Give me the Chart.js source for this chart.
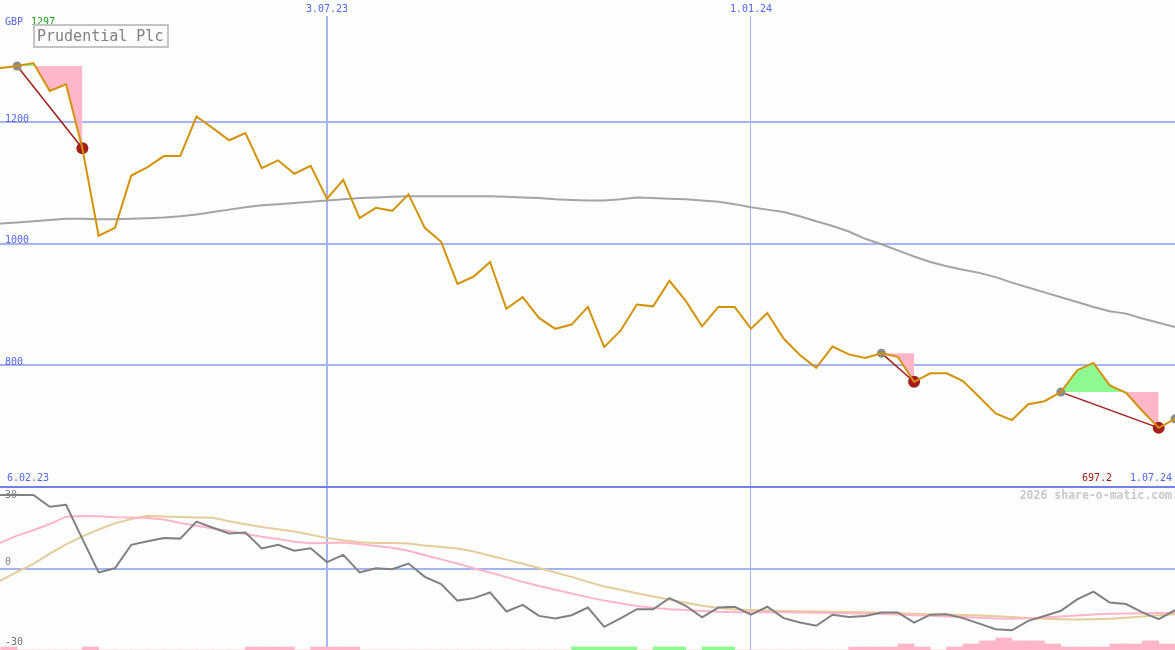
<!DOCTYPE html>
<html>
<head>
<meta charset="utf-8">
<title>Prudential Plc</title>
<script src="https://cdn.jsdelivr.net/npm/chart.js@4.4.1/dist/chart.umd.min.js"></script>
<style>
  body { margin: 0; background: #fbfefb; }
  #wrap { position: relative; width: 1175px; height: 650px; overflow: hidden; font-family: "DejaVu Sans Mono", monospace; }
  .panel { position: absolute; left: 0; width: 1175px; }
  #price-panel { top: 0; height: 487px; }
  #osc-panel { top: 487px; height: 163px; }
  #divider { position: absolute; left: 0; top: 486px; width: 1175px; height: 2px; background: #7080e8; }
  .lbl { position: absolute; font-size: 10px; line-height: 10px; white-space: nowrap; color: #5464f0; }
  #title { position: absolute; left: 33px; top: 24px; width: 130px; height: 20px; padding-left: 2px;
           border: 2px solid #c4c4c4; font-size: 15px; line-height: 20px; color: #808080; white-space: nowrap; }
  #credit { position: absolute; right: 3px; top: 489px; font-size: 11.5px; line-height: 12px; font-weight: bold; color: #c8c8c8; }
</style>
</head>
<body>
<div id="wrap">
  <div class="panel" id="price-panel"><canvas id="price-chart"></canvas></div>
  <div class="panel" id="osc-panel"><canvas id="osc-chart"></canvas></div>
  <div id="divider"></div>
  <div class="lbl" style="left:5px;top:17px">GBP</div>
  <div class="lbl" id="max-label" style="left:31px;top:17px;color:#209a20"></div>
  <div id="title">Prudential Plc</div>
  <div class="lbl" id="first-date" style="left:7px;top:473px"></div>
  <div class="lbl" id="last-price" style="left:1082px;top:473px;color:#a01818"></div>
  <div class="lbl" id="last-date" style="left:1130px;top:473px"></div>
  <div id="credit">2026 share-o-matic.com</div>
  <div class="lbl" style="left:5px;top:490px;color:#808080">30</div>
  <div class="lbl" style="left:5px;top:557px;color:#808080">0</div>
  <div class="lbl" style="left:5px;top:637px;color:#707070">-30</div>
</div>
<script>
// weekly closes, week 0 = 6.02.23 ... week 73 = 1.07.24
const price = [
  1288, 1289, 1292, 1297, 1251, 1262, 1157, 1013, 1026, 1112,
  1126, 1144, 1144, 1209, 1190, 1170, 1182, 1124, 1137, 1115,
  1128, 1074, 1105, 1042, 1059, 1054, 1081, 1026, 1003, 934,
  946, 970, 893, 912, 878, 860, 867, 896, 830, 857,
  900, 897, 939, 906, 864, 896, 896, 860, 886, 844,
  817, 796, 831, 818, 812, 820, 814, 773, 787, 787,
  774, 748, 721, 710, 736, 741, 756, 792, 804, 767,
  755, 725, 697.2, 712
];
const priceAvg = [
  1031, 1033, 1035, 1037, 1039, 1041, 1041, 1040, 1040, 1041,
  1042, 1043, 1045, 1048, 1052, 1056, 1060, 1063, 1065, 1067,
  1069, 1071, 1073, 1075, 1076, 1077, 1078, 1078, 1078, 1078,
  1078, 1078, 1077, 1076, 1075, 1073, 1072, 1071, 1071, 1073,
  1076, 1075, 1074, 1073, 1071, 1069, 1065, 1060, 1056, 1052,
  1045, 1037, 1029, 1020, 1008, 999, 989, 979, 970, 963,
  957, 952, 945, 936, 928, 920, 912, 904, 896, 889,
  885, 877, 870, 863
];
const oscillator = [
  29.8, 29.8, 29.8, 29.8, 25, 25.8, 12, -1.6, 0.1, 9.6,
  11, 12.3, 12.1, 19, 16.5, 14.2, 14.6, 8.1, 9.6, 7.2,
  8.2, 2.6, 5.5, -1.6, 0.1, -0.3, 2, -3.4, -6.3, -13,
  -12, -9.7, -17.4, -14.7, -19.2, -20.2, -18.9, -15.8, -23.6, -20.2,
  -16.5, -16.5, -12, -15.1, -19.8, -15.8, -15.5, -18.7, -15.5, -20.1,
  -21.9, -23.2, -18.7, -19.6, -19.2, -17.8, -17.8, -21.9, -18.7, -18.5,
  -20.1, -22.3, -24.6, -25, -21.2, -19.2, -17.1, -12.5, -9.4, -13.8,
  -14.4, -17.8, -20.5, -16.9
];
const oscFast = [
  7.5, 10.5, 13.3, 15.5, 18, 21, 21.3, 21.2, 20.8, 20.6,
  20.4, 19.8, 18.4, 17.3, 16.2, 15.2, 14, 12.9, 11.9, 10.8,
  10.2, 10.3, 10.5, 9.9, 9.1, 8.4, 7.2, 5.4, 3.7, 2.0,
  0.1, -1.6, -3.5, -5.4, -7.1, -8.6, -10.1, -11.6, -13.0, -14.1,
  -15.2, -15.9, -16.5, -16.8, -17.2, -17.5, -17.7, -17.7, -17.7, -17.7,
  -17.8, -17.9, -18.0, -18.1, -18.2, -18.4, -18.6, -18.9, -19.1, -19.4,
  -19.6, -19.9, -20.2, -20.3, -20.1, -19.8, -19.4, -19.0, -18.6, -18.3,
  -18.2, -18.1, -18.0, -17.9
];
const oscSlow = [
  -8.5, -4.8, -1.4, 1.9, 6, 9.8, 13, 15.8, 18.3, 20,
  21.4, 21.1, 20.9, 20.7, 20.5, 19.1, 17.9, 16.8, 15.9, 15,
  13.7, 12.4, 11.4, 10.6, 10.3, 10.3, 10.1, 9.3, 8.7, 8.1,
  6.9, 5.2, 3.6, 1.9, 0.2, -1.6, -3.4, -5.4, -7.3, -8.6,
  -10, -11.3, -12.6, -13.9, -15.1, -15.9, -16.6, -16.8, -17, -17.2,
  -17.3, -17.4, -17.5, -17.6, -17.7, -17.9, -18.1, -18.3, -18.5, -18.6,
  -18.8, -19.0, -19.3, -19.6, -20.0, -20.3, -20.5, -20.6, -20.5, -20.3,
  -19.9, -19.4, -18.9, -18.5
];
// one bar per week interval; positive = pink, negative = green
const histogram = [
  0, 1, 0, 0, 0, 0, 1, 0, 0, 0,
  0, 0, 0, 0, 0, 0, 1, 1, 1, 0,
  1, 1, 1, 0, 0, 0, 0, 0, 0, 0,
  0, 0, 0, 0, 0, 0, -1, -1, -1, -1,
  0, -1, -1, 0, -1, -1, 0, 0, 0, 0,
  0, 0, 0, 1, 1, 1, 2, 1, 0, 1,
  2, 3, 4, 3, 3, 2, 1, 1, 1, 2,
  2, 3, 2
];

const tradeEntryWeek = [2, 55, 66, 73];
const tradeEntryPrice = [1292, 820, 756, 712];
const tradeExitWeek = [6, 57, 72];
const tradeExitPrice = [1157, 773, 697.2];

const dateTickWeeks = [21, 47];
const dateTickLabels = ["3.07.23", "1.01.24"];
const priceTicks = [800, 1000, 1200];
const oscTicks = [-30, 0, 30];
const firstDate = "6.02.23";
const lastDate = "1.07.24";

const BLUE_TEXT = "#5464f0";
const GRID = "#a4b4f4";
const PINK = "#ffb6c8";
const GREEN = "#90f890";
const FONT = "DejaVu Sans Mono";

document.getElementById("max-label").textContent = String(Math.max(...price));
document.getElementById("first-date").textContent = firstDate;
document.getElementById("last-date").textContent = lastDate;
document.getElementById("last-price").textContent = String(tradeExitPrice[tradeExitPrice.length - 1]);

const toPoints = (arr) => arr.map((v, i) => ({ x: i, y: v }));

function weekAxis(showLabels) {
  return {
    type: "linear",
    position: "top",
    min: 0.95,
    max: 73,
    offset: false,
    border: { display: false },
    grid: {
      offset: false,
      drawTicks: false,
      color: GRID,
      lineWidth: (c) => (c.index === 0 ? 2 : 1),
    },
    ticks: {
      display: showLabels,
      padding: 1,
      color: BLUE_TEXT,
      font: { family: FONT, size: 10 },
      callback: (v) => dateTickLabels[dateTickWeeks.indexOf(v)] || "",
    },
    afterBuildTicks: (s) => { s.ticks = dateTickWeeks.map((v) => ({ value: v })); },
    afterFit: (s) => {
      s.height = showLabels ? 16 : 0;
      s.paddingLeft = 0; s.paddingRight = 0;
    },
  };
}

const levelSets = tradeExitWeek.map((exitWeek, t) => ({
  data: price.map((v, i) => ({
    x: i,
    y: i >= tradeEntryWeek[t] && i <= exitWeek ? tradeEntryPrice[t] : null,
  })),
  borderColor: "rgba(0,0,0,0)",
  borderWidth: 0,
  pointRadius: 0,
  fill: { target: 0, above: PINK, below: GREEN },
  order: 6,
}));

const tradeLines = tradeExitWeek.map((exitWeek, t) => ({
  data: [
    { x: tradeEntryWeek[t], y: tradeEntryPrice[t] },
    { x: exitWeek, y: tradeExitPrice[t] },
  ],
  borderColor: "#a01c1c",
  borderWidth: 1.5,
  pointRadius: 0,
  order: 3,
}));

new Chart(document.getElementById("price-chart"), {
  type: "line",
  data: {
    datasets: [
      {
        data: toPoints(price),
        borderColor: "#d4920a",
        borderWidth: 2,
        pointRadius: 0,
        order: 0,
      },
      {
        data: tradeExitWeek.map((w, t) => ({ x: w, y: tradeExitPrice[t] })),
        showLine: false,
        pointRadius: 6,
        pointBorderWidth: 0,
        pointBackgroundColor: "#a51d1d",
        order: 1,
      },
      {
        data: tradeEntryWeek.map((w, t) => ({ x: w, y: tradeEntryPrice[t] })),
        showLine: false,
        pointRadius: 4.5,
        pointBorderWidth: 0,
        pointBackgroundColor: "#8a8a8a",
        order: 2,
      },
      ...tradeLines,
      {
        data: toPoints(priceAvg),
        borderColor: "#a4a4a4",
        borderWidth: 2,
        pointRadius: 0,
        order: 4,
      },
      ...levelSets,
    ],
  },
  options: {
    responsive: true,
    maintainAspectRatio: false,
    animation: false,
    events: [],
    layout: { padding: 0, autoPadding: false },
    plugins: { legend: { display: false }, tooltip: { enabled: false } },
    scales: {
      x: weekAxis(true),
      y: {
        min: 600,
        max: 600 + 471 / 0.6083,
        border: { display: false },
        grid: { drawTicks: false, color: GRID, lineWidth: 2 },
        ticks: {
          mirror: true,
          padding: 5,
          labelOffset: -3,
          color: BLUE_TEXT,
          font: { family: FONT, size: 10 },
          callback: (v) => String(v),
        },
        afterBuildTicks: (s) => { s.ticks = priceTicks.map((v) => ({ value: v })); },
        afterFit: (s) => {
          s.width = 0;
          s.paddingTop = 0; s.paddingBottom = 0;
        },
      },
    },
  },
});

new Chart(document.getElementById("osc-chart"), {
  type: "line",
  data: {
    datasets: [
      { data: toPoints(oscillator), borderColor: "#808080", borderWidth: 2, pointRadius: 0, order: 0 },
      { data: toPoints(oscFast), borderColor: "#ffb4c8", borderWidth: 2, pointRadius: 0, order: 1 },
      { data: toPoints(oscSlow), borderColor: "#e4cc9c", borderWidth: 2, pointRadius: 0, order: 2 },
      {
        type: "bar",
        yAxisID: "yh",
        data: histogram.map((v, k) => ({ x: k + 0.5, y: Math.abs(v) })),
        backgroundColor: histogram.map((v) => (v < 0 ? GREEN : PINK)),
        borderWidth: 0,
        barPercentage: 1,
        categoryPercentage: 1,
        order: 3,
      },
    ],
  },
  options: {
    responsive: true,
    maintainAspectRatio: false,
    animation: false,
    events: [],
    layout: { padding: 0, autoPadding: false },
    plugins: { legend: { display: false }, tooltip: { enabled: false } },
    scales: {
      x: weekAxis(false),
      y: {
        min: -33,
        max: 33,
        border: { display: false },
        grid: {
          drawTicks: false,
          lineWidth: 2,
          color: (c) => (c.tick && c.tick.value === 0 ? GRID : "rgba(0,0,0,0)"),
        },
        ticks: { display: false },
        afterBuildTicks: (s) => { s.ticks = oscTicks.map((v) => ({ value: v })); },
        afterFit: (s) => { s.width = 0; },
      },
      yh: { display: false, min: 0, max: 54 },
    },
  },
});
</script>
</body>
</html>
